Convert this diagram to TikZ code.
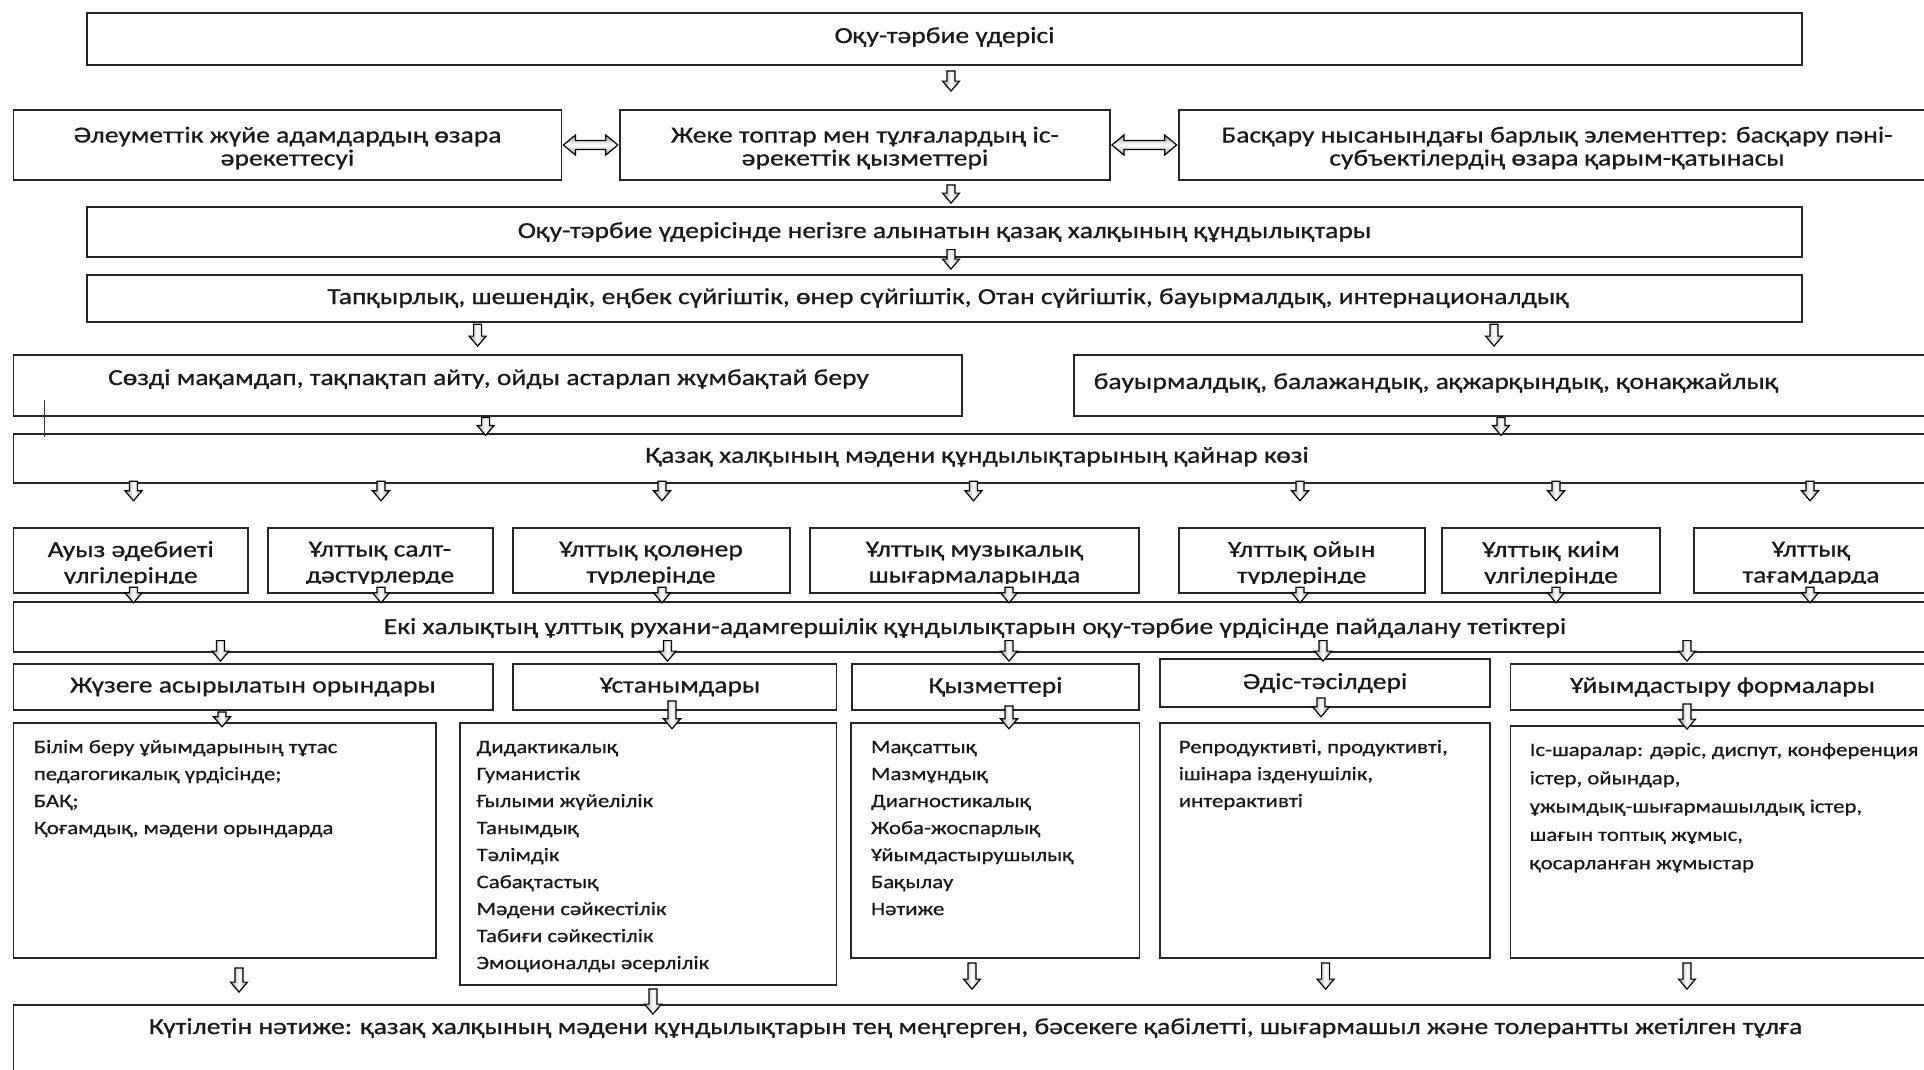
\documentclass[tikz,border=0pt]{standalone}
\usepackage{fontspec}
\setmainfont{Carlito}[FakeStretch=1.2, FakeBold=0.6]
\usetikzlibrary{fit,calc}
\newcommand\darr[5]{\path[arr] let \p1=(#2), \p2=(#4) in
 ({#1pt-4pt},{\y1-(#3pt)}) -- ({#1pt+4pt},{\y1-(#3pt)}) -- ({#1pt+4pt},{\y2-(#5pt)+10pt}) -- ({#1pt+8.5pt},{\y2-(#5pt)+10pt}) -- ({#1pt},{\y2-(#5pt)}) -- ({#1pt-8.5pt},{\y2-(#5pt)+10pt}) -- ({#1pt-4pt},{\y2-(#5pt)+10pt}) -- cycle;}
\newcommand\harr[2]{\path[harrst] let \p1=(#1), \p2=(#2) in
 ({\x1+1pt},{\y1}) -- ({\x1+13pt},{\y1+10pt}) -- ({\x1+13pt},{\y1+4.5pt}) -- ({\x2-13pt},{\y1+4.5pt}) -- ({\x2-13pt},{\y1+10pt}) -- ({\x2-1pt},{\y1}) -- ({\x2-13pt},{\y1-10pt}) -- ({\x2-13pt},{\y1-4.5pt}) -- ({\x1+13pt},{\y1-4.5pt}) -- ({\x1+13pt},{\y1-10pt}) -- cycle;}
\begin{document}
\begin{tikzpicture}[x=1pt,y=-1pt,
 bx/.style={draw=black!85, line width=1.8pt, inner sep=0pt},
 tx/.style={font=\fontsize{23}{23}\selectfont, inner sep=0pt, align=center, text=black!90},
 tx7/.style={font=\fontsize{23}{26}\selectfont, inner sep=0pt, align=center, text=black!90},
 lst/.style={font=\fontsize{19}{27}\selectfont, inner sep=0pt, align=left, anchor=north west, text=black!90},
 arr/.style={draw=black, line width=1.2pt, left color=gray!75, right color=gray!75, middle color=white},
 harrst/.style={draw=black, line width=1.2pt, top color=gray!75, bottom color=gray!75, middle color=white}]
\useasboundingbox (0,0) rectangle (1924,1069);
\fill[white] (0,0) rectangle (1924,1069);
% boxes
\node[bx, fit={(87,12.7) (1802,65)}] (r1) {};
\node[bx, fit={(13.5,110) (561.5,180)}] (r2a) {};
\node[bx, fit={(619.7,110) (1110,180)}] (r2b) {};
\node[bx, fit={(1178.6,110) (1936,180)}] (r2c) {};
\node[bx, fit={(87,207) (1802,256.7)}] (r3) {};
\node[bx, fit={(87,275) (1802,322.3)}] (r4) {};
\node[bx, fit={(13.5,355) (962,415.7)}] (r5a) {};
\node[bx, fit={(1074,355) (1936,415.7)}] (r5b) {};
\node[bx, fit={(13.5,434.3) (1936,483.3)}] (r6) {};
\node[bx, fit={(13.5,527.7) (248,593.3)}] (r7a) {};
\node[bx, fit={(267.6,527.7) (493,593.3)}] (r7b) {};
\node[bx, fit={(512.6,527.7) (790,593.3)}] (r7c) {};
\node[bx, fit={(810,527.7) (1139,593.3)}] (r7d) {};
\node[bx, fit={(1178.6,527.7) (1424.8,593.3)}] (r7e) {};
\node[bx, fit={(1442,527.7) (1660,593.3)}] (r7f) {};
\node[bx, fit={(1693.6,527.7) (1936,593.3)}] (r7g) {};
\node[bx, fit={(13.5,601.7) (1936,651.7)}] (r8) {};
\node[bx, fit={(13.5,664) (493,710)}] (r9a) {};
\node[bx, fit={(512.6,664) (836.5,710)}] (r9b) {};
\node[bx, fit={(852,664) (1139,710)}] (r9c) {};
\node[bx, fit={(1160,659) (1490,707)}] (r9d) {};
\node[bx, fit={(1510.5,664) (1936,710)}] (r9e) {};
\node[bx, fit={(13.5,722.7) (436,958)}] (r10a) {};
\node[bx, fit={(460,722.7) (836.5,985)}] (r10b) {};
\node[bx, fit={(851,722.7) (1139.4,958)}] (r10c) {};
\node[bx, fit={(1160,722.7) (1490,958)}] (r10d) {};
\node[bx, fit={(1510.5,726) (1936,958)}] (r10e) {};
\node[bx, fit={(13.5,1005) (1936,1100)}] (bot) {};
% texts
\node[tx] (t1) at (944.5,37) {Оқу-тәрбие үдерісі};
\node[tx] (t2a) at (287.5,148) {Әлеуметтік жүйе адамдардың өзара\\әрекеттесуі};
\node[tx] (t2b) at (865,148) {Жеке топтар мен тұлғалардың іс-\\әрекеттік қызметтері};
\node[tx] (t2c) at (1557,148) {Басқару нысанындағы барлық элементтер: басқару пәні-\\субъектілердің өзара қарым-қатынасы};
\node[tx] (t3) at (944.5,232) {Оқу-тәрбие үдерісінде негізге алынатын қазақ халқының құндылықтары};
\node[tx] (t4) at (948,298) {Тапқырлық, шешендік, еңбек сүйгіштік, өнер сүйгіштік, Отан сүйгіштік, бауырмалдық, интернационалдық};
\node[tx] (t5a) at (488.5,379) {Сөзді мақамдап, тақпақтап айту, ойды астарлап жұмбақтай беру};
\node[tx, anchor=west] (t5b) at (1093.5,383) {бауырмалдық, балажандық, ақжарқындық, қонақжайлық};
\node[tx] (t6) at (977,456.7) {Қазақ халқының мәдени құндылықтарының қайнар көзі};
\begin{scope}
\clip (0,520) rectangle (1924,583);
\node[tx7] (t7a) at (130.7,564) {Ауыз әдебиеті\\үлгілерінде};
\node[tx7] (t7b) at (380,564) {Ұлттық салт-\\дәстүрлерде};
\node[tx7] (t7c) at (651,564) {Ұлттық қолөнер\\түрлерінде};
\node[tx7] (t7d) at (974.5,564) {Ұлттық музыкалық\\шығармаларында};
\node[tx7] (t7e) at (1301.7,564) {Ұлттық ойын\\түрлерінде};
\node[tx7] (t7f) at (1551,564) {Ұлттық киім\\үлгілерінде};
\node[tx7] (t7g) at (1811,564) {Ұлттық\\тағамдарда};
\end{scope}
\node[tx] (t8) at (975,628) {Екі халықтың ұлттық рухани-адамгершілік құндылықтарын оқу-тәрбие үрдісінде пайдалану тетіктері};
\node[tx] (t9a) at (253,687) {Жүзеге асырылатын орындары};
\node[tx] (t9b) at (680,687) {Ұстанымдары};
\node[tx] (t9c) at (995.5,687) {Қызметтері};
\node[tx] (t9d) at (1325,683) {Әдіс-тәсілдері};
\node[tx] (t9e) at (1722.6,687) {Ұйымдастыру формалары};
\node[lst] (t10a) at (33.7,734) {\strut Білім беру ұйымдарының тұтас\\педагогикалық үрдісінде;\\БАҚ;\\Қоғамдық, мәдени орындарда};
\node[lst] (t10b) at (476.4,734) {\strut Дидактикалық\\Гуманистік\\Ғылыми жүйелілік\\Танымдық\\Тәлімдік\\Сабақтастық\\Мәдени сәйкестілік\\Табиғи сәйкестілік\\Эмоционалды әсерлілік};
\node[lst] (t10c) at (870.8,734) {\strut Мақсаттық\\Мазмұндық\\Диагностикалық\\Жоба-жоспарлық\\Ұйымдастырушылық\\Бақылау\\Нәтиже};
\node[lst] (t10d) at (1178.6,734) {\strut Репродуктивті, продуктивті,\\ішінара ізденушілік,\\интерактивті};
\node[lst, font=\fontsize{19}{28.3}\selectfont] (t10e) at (1529.5,736) {\strut Іс-шаралар: дәріс, диспут, конференция\\істер, ойындар,\\ұжымдық-шығармашылдық істер,\\шағын топтық жұмыс,\\қосарланған жұмыстар};
\node[tx] (t11) at (975.5,1028) {Күтілетін нәтиже: қазақ халқының мәдени құндылықтарын тең меңгерген, бәсекеге қабілетті, шығармашыл және толерантты жетілген тұлға};
% stray cursor mark
\draw[line width=0.8pt, black!80] (44,400) -- (44,437);
% arrows
\darr{951}{r1.south}{5}{r2b.north}{-18}
\harr{r2a.east}{r2b.west}
\harr{r2b.east}{r2c.west}
\darr{951}{r2b.south}{4}{r3.north}{-3}
\darr{951}{r3.south}{-8}{r4.north}{-5}
\darr{477.6}{r4.south}{1}{r5a.north}{-8}
\darr{1494}{r4.south}{1}{r5b.north}{-8}
\darr{485.6}{r5a.south}{1}{r6.north}{2}
\darr{1501}{r5b.south}{1}{r6.north}{2}
\darr{133.5}{r6.south}{-3}{r7a.north}{-26}
\darr{381}{r6.south}{-3}{r7b.north}{-26}
\darr{662}{r6.south}{-3}{r7c.north}{-26}
\darr{973.5}{r6.south}{-3}{r7d.north}{-26}
\darr{1300}{r6.south}{-3}{r7e.north}{-26}
\darr{1556}{r6.south}{-3}{r7f.north}{-26}
\darr{1810}{r6.south}{-3}{r7g.north}{-26}
\darr{133.5}{r7a.south}{-7}{r8.north}{2}
\darr{381}{r7b.south}{-7}{r8.north}{2}
\darr{662}{r7c.south}{-7}{r8.north}{2}
\darr{1009}{r7d.south}{-7}{r8.north}{2}
\darr{1300}{r7e.south}{-7}{r8.north}{2}
\darr{1556}{r7f.south}{-7}{r8.north}{2}
\darr{1810}{r7g.south}{-7}{r8.north}{2}
\darr{220.5}{r8.south}{-12}{r9a.north}{-2}
\darr{667.5}{r8.south}{-12}{r9b.north}{-2}
\darr{1009}{r8.south}{-12}{r9c.north}{-2}
\darr{1323}{r8.south}{-12}{r9d.north}{3}
\darr{1687}{r8.south}{-12}{r9e.north}{-2}
\darr{222}{r9a.south}{1}{r10a.north}{5}
\darr{672}{r9b.south}{-10}{r10b.north}{7}
\darr{1009}{r9c.south}{-5}{r10c.north}{7}
\darr{1321}{r9d.south}{-10}{r10d.north}{-5}
\darr{1687}{r9e.south}{-7}{r10e.north}{4}
\darr{239}{r10a.south}{9}{bot.north}{-12}
\darr{653}{r10b.south}{3}{bot.north}{10}
\darr{972}{r10c.south}{4}{bot.north}{-15}
\darr{1325.6}{r10d.south}{4}{bot.north}{-15}
\darr{1687}{r10e.south}{4}{bot.north}{-15}
\end{tikzpicture}
\end{document}
